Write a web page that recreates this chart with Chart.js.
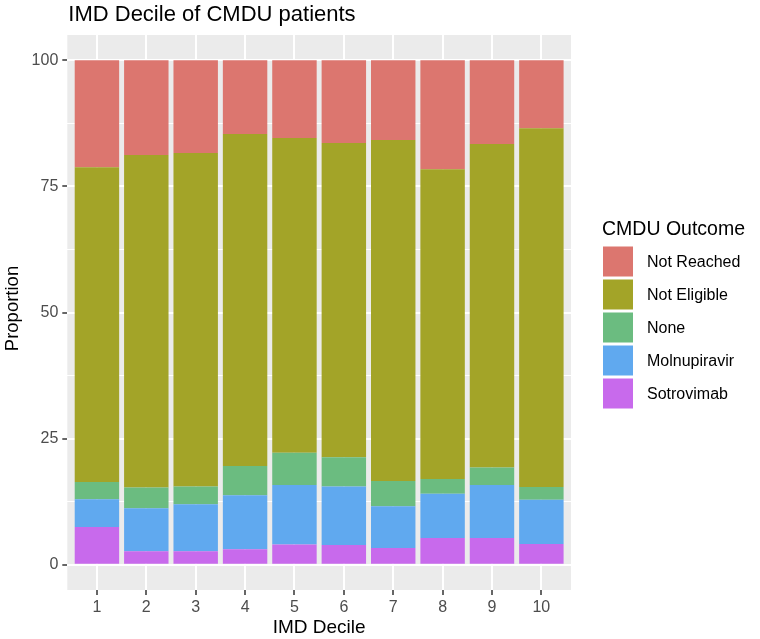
<!DOCTYPE html>
<html>
<head>
<meta charset="utf-8">
<script src="https://cdn.jsdelivr.net/npm/chart.js@4/dist/chart.umd.min.js"></script>
<style>
  html, body { margin: 0; padding: 0; background: #ffffff; }
  canvas { display: block; }
</style>
</head>
<body>
<canvas id="c" width="760" height="639"></canvas>
<script>
// ---- data ----
const categories   = [1, 2, 3, 4, 5, 6, 7, 8, 9, 10];
const sotrovimab   = [7.5, 2.7, 2.7, 3.1, 4.0, 3.9, 3.3, 5.3, 5.3, 4.1];
const molnupiravir = [5.5, 8.5, 9.3, 10.7, 11.8, 11.6, 8.3, 8.8, 10.5, 8.8];
const noneOutcome  = [3.4, 4.1, 3.5, 5.8, 6.4, 5.8, 5.0, 2.9, 3.5, 2.5];
const notEligible  = [62.4, 65.9, 66.1, 65.8, 62.4, 62.3, 67.6, 61.4, 64.1, 71.1];
const notReached   = [21.2, 18.8, 18.4, 14.6, 15.4, 16.4, 15.8, 21.6, 16.6, 13.5];
const yMajorTicks  = [0, 25, 50, 75, 100];
const yMinorTicks  = [12.5, 37.5, 62.5, 87.5];
const seriesNames  = ['Sotrovimab', 'Molnupiravir', 'None', 'Not Eligible', 'Not Reached'];

const colors = {
  'Not Reached':  '#DC766F',
  'Not Eligible': '#A3A428',
  'None':         '#6BBC80',
  'Molnupiravir': '#60A9EF',
  'Sotrovimab':   '#C86AEC'
};
const seriesValues = [sotrovimab, molnupiravir, noneOutcome, notEligible, notReached];

const FONT = '"Liberation Sans", Arial, Helvetica, sans-serif';

const datasets = seriesNames.map((name, i) => ({
  label: name,
  data: categories.map((c, j) => ({ x: c, y: seriesValues[i][j] })),
  backgroundColor: colors[name],
  borderWidth: 0,
  barPercentage: 1.0,
  categoryPercentage: 0.9
}));

const decorPlugin = {
  id: 'decor',
  beforeDraw(chart) {
    const { ctx, chartArea: a } = chart;
    ctx.save();
    ctx.fillStyle = '#ffffff';
    ctx.fillRect(0, 0, chart.width, chart.height);
    ctx.fillStyle = '#EBEBEB';
    ctx.fillRect(a.left, a.top, a.right - a.left, a.bottom - a.top);
    ctx.restore();
  },
  afterDraw(chart) {
    const { ctx, chartArea: a } = chart;
    ctx.save();
    // title
    ctx.fillStyle = '#000000';
    ctx.textBaseline = 'alphabetic';
    ctx.textAlign = 'left';
    ctx.font = '22px ' + FONT;
    ctx.fillText('IMD Decile of CMDU patients', a.left + 1, 21);
    // x axis title
    ctx.font = '19px ' + FONT;
    ctx.textAlign = 'center';
    ctx.fillText('IMD Decile', (a.left + a.right) / 2, 633);
    // y axis title
    ctx.save();
    ctx.translate(17.5, (a.top + a.bottom) / 2 - 4);
    ctx.rotate(-Math.PI / 2);
    ctx.font = '18.5px ' + FONT;
    ctx.textAlign = 'center';
    ctx.fillText('Proportion', 0, 0);
    ctx.restore();
    // legend
    ctx.textAlign = 'left';
    ctx.font = '19.5px ' + FONT;
    ctx.fillStyle = '#000000';
    ctx.fillText('CMDU Outcome', 602, 235);
    const legendOrder = chart.data.datasets.slice().reverse();
    ctx.font = '16px ' + FONT;
    ctx.textBaseline = 'middle';
    legendOrder.forEach((ds, i) => {
      const y0 = 246.5 + i * 33;
      ctx.fillStyle = ds.backgroundColor;
      ctx.fillRect(603, y0, 30, 30);
      ctx.fillStyle = '#000000';
      ctx.fillText(ds.label, 647, y0 + 16);
    });
    ctx.restore();
  }
};

new Chart(document.getElementById('c'), {
  type: 'bar',
  data: { datasets },
  options: {
    responsive: false,
    animation: false,
    devicePixelRatio: 1,
    layout: { padding: { top: 35, right: 189, left: 0, bottom: 0 } },
    plugins: {
      legend: { display: false },
      tooltip: { enabled: false },
      title: { display: false }
    },
    scales: {
      x: {
        type: 'linear',
        min: 0.4,
        max: 10.6,
        offset: false,
        stacked: true,
        afterFit: s => { s.height = 49; },
        afterBuildTicks: s => { s.ticks = categories.map(v => ({ value: v })); },
        border: { display: false },
        grid: {
          offset: false,
          color: '#ffffff',
          lineWidth: 2,
          drawTicks: true,
          tickLength: 5,
          tickColor: '#333333',
          tickWidth: 1.5
        },
        ticks: {
          autoSkip: false,
          maxRotation: 0,
          padding: 3,
          color: '#4D4D4D',
          font: { family: FONT, size: 16 },
          callback: v => String(v)
        }
      },
      y: {
        type: 'linear',
        min: -5,
        max: 105,
        stacked: true,
        afterFit: s => { s.width = 67.3; },
        afterBuildTicks: s => {
          s.ticks = yMajorTicks.concat(yMinorTicks).sort((a, b) => a - b).map(v => ({ value: v }));
        },
        border: { display: false },
        grid: {
          color: '#ffffff',
          lineWidth: ctx => (ctx.tick && yMajorTicks.includes(ctx.tick.value)) ? 2 : 1,
          drawTicks: true,
          tickLength: 5,
          tickColor: ctx => (ctx.tick && yMajorTicks.includes(ctx.tick.value)) ? '#333333' : 'rgba(0,0,0,0)',
          tickWidth: 1.5
        },
        ticks: {
          autoSkip: false,
          padding: 4,
          color: '#4D4D4D',
          font: { family: FONT, size: 16 },
          callback: v => yMajorTicks.includes(v) ? String(v) : ''
        }
      }
    }
  },
  plugins: [decorPlugin]
});
</script>
</body>
</html>
